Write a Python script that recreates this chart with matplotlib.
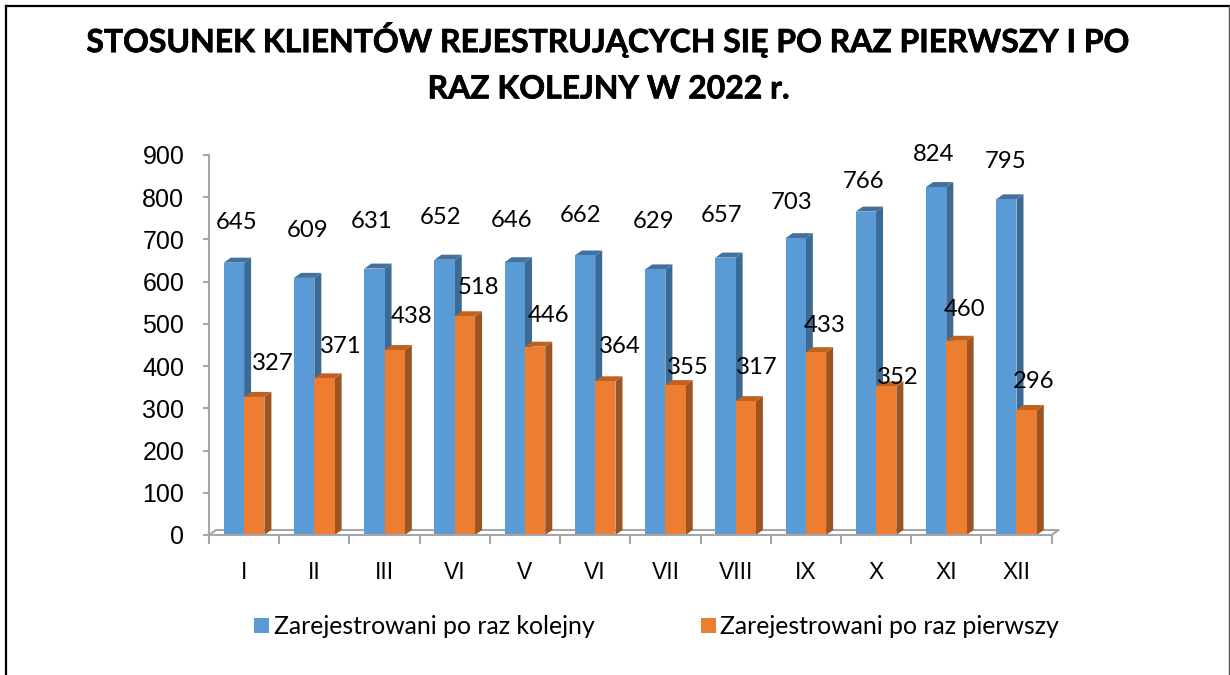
#coding: utf8
import matplotlib
matplotlib.use('Agg')
import matplotlib.pyplot as plt
import matplotlib.patheffects as pe
from matplotlib.lines import Line2D
from matplotlib.patches import Polygon
import numpy as np

months = ['I', 'II', 'III', 'VI', 'V', 'VI', 'VII', 'VIII', 'IX', 'X', 'XI', 'XII']
kolejny = [645, 609, 631, 652, 646, 662, 629, 657, 703, 766, 824, 795]
pierwszy = [327, 371, 438, 518, 446, 364, 355, 317, 433, 352, 460, 296]
yticks = np.arange(0, 901, 100)

title = 'STOSUNEK KLIENTÓW REJESTRUJĄCYCH SIĘ PO RAZ PIERWSZY I PO\nRAZ KOLEJNY W 2022 r.'
name_kolejny = 'Zarejestrowani po raz kolejny'
name_pierwszy = 'Zarejestrowani po raz pierwszy'

# hand placed labels, pixels from the top of the front face
label_dy_k = [40, 47, 47, 42, 42, 40, 48, 42, 36, 30, 33, 38]
label_dx_k = [3, 3, -3, -4, -3, -4, -2, -4, -4, -2, -3, -1]
label_dy_p = [33, 32, 34, 29, 31, 35, 18, 34, 27, 9, 31, 29]
label_dx_p = [19, 16, 17, 13, 13, 14, 12, 11, 9, 12, 8, 7]

W, H = 1230, 675
bar_w = 0.289
dx = 7 / 70.2
dy = 5 * 900 / 380.0

fig = plt.figure(figsize=(W / 100, H / 100), dpi=100)
ax = fig.add_axes([209 / W, (H - 535) / H, 842.6 / W, 380 / H])
ax.set_xlim(-0.5, 11.5)
ax.set_ylim(0, 900)
x = np.arange(len(months))


def draw_bars(xs, values, front, side, top, z):
    ax.bar(xs, values, bar_w, color=front, zorder=z + 0.2, linewidth=0)
    for xi, v in zip(xs, values):
        x0 = xi - bar_w / 2
        x1 = xi + bar_w / 2
        ax.add_patch(Polygon([(x1, 0), (x1 + dx, dy), (x1 + dx, v + dy), (x1, v)],
                             color=side, lw=0, zorder=z, clip_on=False))
        ax.add_patch(Polygon([(x0, v), (x1, v), (x1 + dx, v + dy), (x0 + dx, v + dy)],
                             color=top, lw=0, zorder=z + 0.1, clip_on=False))


# floor of the 3d box
floor_c = '#a6a6a6'
ax.plot([-0.5, -0.5 + dx, 11.5 + dx, 11.5], [0, dy, dy, 0], color=floor_c, lw=1.5,
        zorder=1, clip_on=False)

draw_bars(x - bar_w / 2, kolejny, '#5b9bd5', '#3b6a94', '#41719c', 3)
draw_bars(x + bar_w / 2, pierwszy, '#ed7d31', '#9c5522', '#c0621f', 4)

for i in x:
    ax.annotate(str(kolejny[i]), (i - bar_w / 2, kolejny[i]),
                xytext=(label_dx_k[i], label_dy_k[i]), textcoords='offset pixels',
                ha='center', va='center', fontsize=17.2, family='Lato', color='black',
                zorder=6, annotation_clip=False)
    ax.annotate(str(pierwszy[i]), (i + bar_w / 2, pierwszy[i]),
                xytext=(label_dx_p[i], label_dy_p[i]), textcoords='offset pixels',
                ha='center', va='center', fontsize=17.2, family='Lato', color='black',
                zorder=6, annotation_clip=False)

for s in ['top', 'right']:
    ax.spines[s].set_visible(False)
for s in ['left', 'bottom']:
    ax.spines[s].set_color(floor_c)
    ax.spines[s].set_linewidth(1.5)
    ax.spines[s].set_zorder(2)
ax.spines['bottom'].set_zorder(5)

ax.set_yticks(yticks)
ax.set_xticks(np.arange(-0.5, 12, 1))
ax.set_xticklabels([])
ax.set_xticks(x, months, minor=True)
ax.tick_params(axis='y', length=4.3, width=1.5, color=floor_c, labelsize=18, pad=13.5)
ax.tick_params(axis='x', which='major', length=6.5, width=1.5, color=floor_c)
ax.tick_params(axis='x', which='minor', length=0, labelsize=16.5, pad=19)
for t in ax.get_yticklabels() + ax.get_xticklabels(minor=True):
    t.set_family('Liberation Sans')

handles = [Line2D([], [], ls='', marker='s', ms=10.8, color='#5b9bd5', mew=0),
           Line2D([], [], ls='', marker='s', ms=10.8, color='#ed7d31', mew=0)]
fig.legend(handles, [name_kolejny, name_pierwszy], ncol=2, frameon=False,
           loc='center', bbox_to_anchor=(654 / W, 1 - 626 / H),
           prop={'family': 'Lato', 'size': 17.9}, handlelength=1.0,
           handletextpad=0.0, columnspacing=4.05, borderpad=0, borderaxespad=0)

tt = fig.text(609 / W, 1 - 62.5 / H, title, ha='center', va='center', fontsize=23,
              family='Lato', weight='bold', linespacing=1.72, color='black')
tt.set_path_effects([pe.withStroke(linewidth=0.5, foreground='black')])

# frame, there is no bottom edge in the picture
fig.add_artist(Line2D([6 / W, 6 / W], [0, 1 - 6 / H], color='black', lw=1.6))
fig.add_artist(Line2D([6 / W, 1229.5 / W], [1 - 6 / H, 1 - 6 / H], color='black', lw=1.6))
fig.add_artist(Line2D([1229 / W, 1229 / W], [0, 1 - 6 / H], color='#555555', lw=1))

fig.savefig('out.png', dpi=100)
